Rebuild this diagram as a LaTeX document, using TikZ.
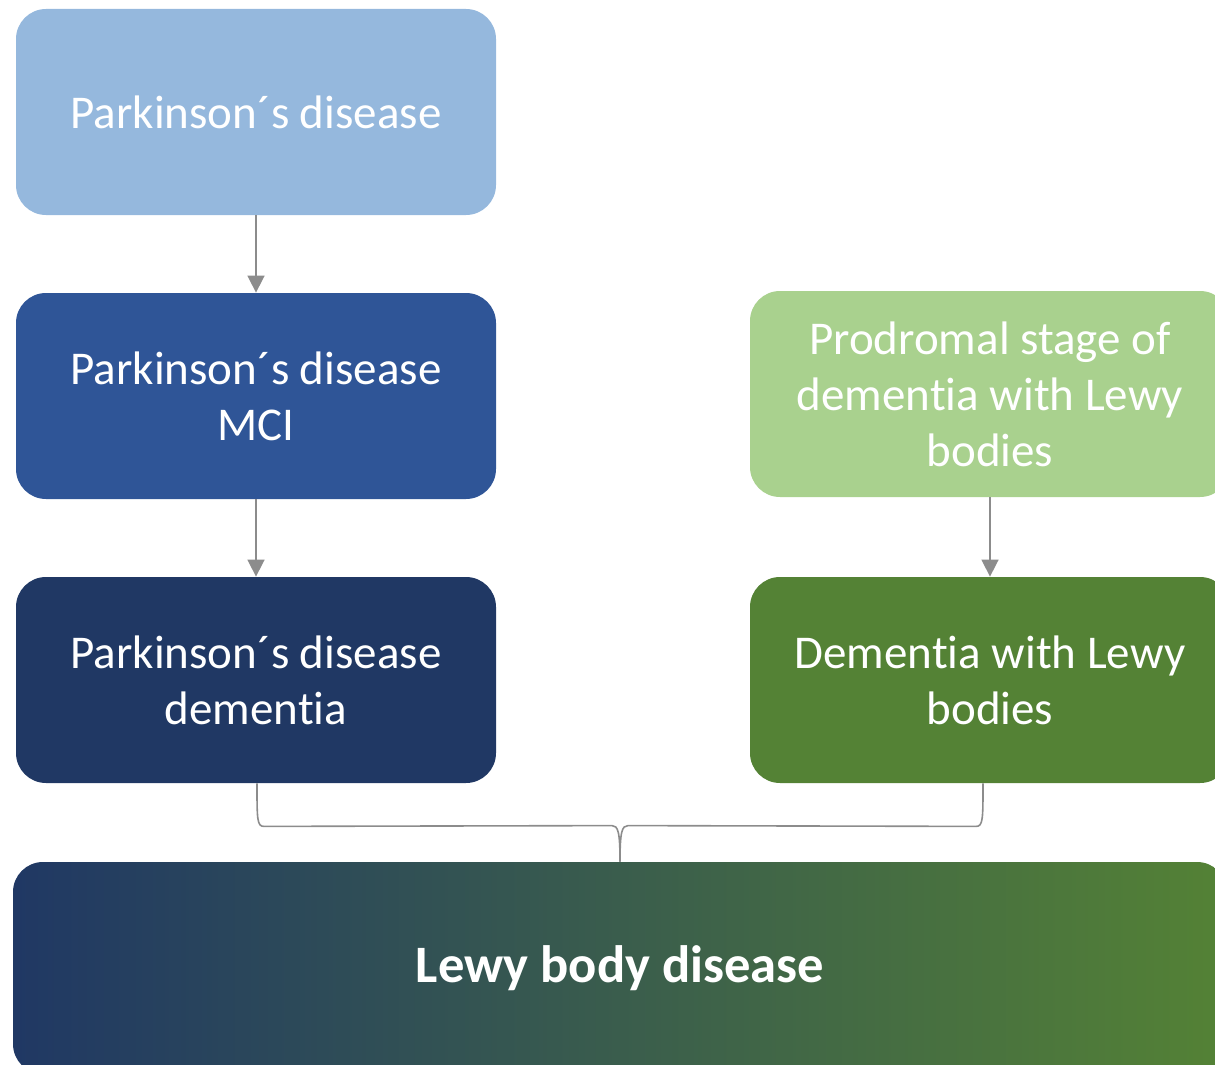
\documentclass[tikz,border=0pt]{standalone}
\usepackage{fontspec}
\setmainfont{Carlito}[Ligatures=NoCommon]
\usetikzlibrary{arrows.meta}

\definecolor{pdlight}{HTML}{95B8DD}
\definecolor{pdmid}{HTML}{2F5597}
\definecolor{pddark}{HTML}{203864}
\definecolor{dlblight}{HTML}{A9D18E}
\definecolor{dlbdark}{HTML}{548235}
\definecolor{linegray}{HTML}{8C8C8C}

\tikzset{
  stage/.style={rounded corners=15pt, minimum width=240pt, minimum height=103pt,
    inner sep=0pt, align=center, text=white, font=\fontsize{23.5}{28}\selectfont},
  flow/.style={draw=linegray, line width=0.8pt, -{Triangle[width=8.5pt,length=8.5pt]}},
  brace/.style={draw=linegray, line width=0.8pt}
}

\begin{document}
\begin{tikzpicture}[x=0.5pt, y=-0.5pt]
\useasboundingbox (0,0) rectangle (1215,1065);
\begin{scope}
\clip (0,0) rectangle (1215,1065);
\node[stage, fill=pdlight] (pd) at (256,112) {Parkinson´s disease};
\node[stage, fill=pdmid] (pdmci) at (256,396) {Parkinson´s disease\\MCI};
\node[stage, fill=pddark] (pdd) at (256,680) {Parkinson´s disease\\dementia};
\node[stage, fill=dlblight] (prod) at (990,394) {Prodromal stage of\\dementia with Lewy\\bodies};
\node[stage, fill=dlbdark] (dlb) at (990,680) {Dementia with Lewy\\bodies};
\node[stage, minimum width=607pt, minimum height=106pt, left color=pddark, right color=dlbdark,
  font=\fontsize{26.3}{28}\selectfont\bfseries] (lbd) at (620,968) {Lewy body disease};
\end{scope}

\draw[flow] (pd) -- (pdmci);
\draw[flow] (pdmci) -- (pdd);
\draw[flow] (prod) -- (dlb);

% bracket joining both dementias
\coordinate (tip) at (lbd.north);
\path[brace] ([xshift=0.5pt]pdd.south) .. controls ([xshift=0.5pt,yshift=-18pt]pdd.south) and ([xshift=0.5pt,yshift=-21.5pt]pdd.south) .. ([xshift=4pt,yshift=-21.5pt]pdd.south)
  -- ([xshift=-4pt,yshift=18pt]tip) .. controls ([xshift=-1pt,yshift=18pt]tip) and ([yshift=15pt]tip) .. (tip);
\path[brace] ([xshift=-3.5pt]dlb.south) .. controls ([xshift=-3.5pt,yshift=-18pt]dlb.south) and ([xshift=-3.5pt,yshift=-21.5pt]dlb.south) .. ([xshift=-7pt,yshift=-21.5pt]dlb.south)
  -- ([xshift=4pt,yshift=18pt]tip) .. controls ([xshift=1pt,yshift=18pt]tip) and ([yshift=15pt]tip) .. (tip);
\end{tikzpicture}
\end{document}
